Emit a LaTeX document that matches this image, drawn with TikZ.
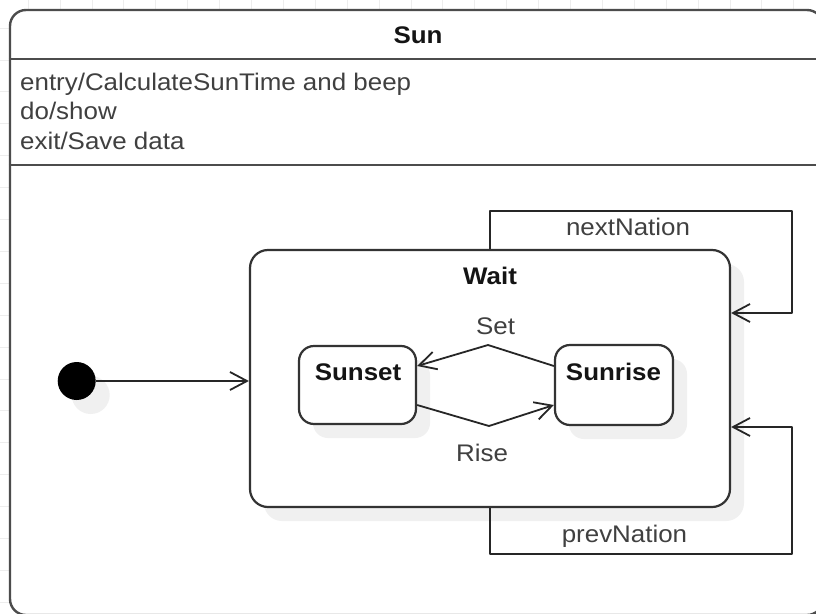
\documentclass[tikz,border=0pt]{standalone}
\usepackage{fontspec}
\setmainfont[FakeStretch=1.08]{Liberation Sans}
\usetikzlibrary{arrows.meta,calc,shadows}
\tikzset{
  gridline/.style={draw=black!7, line width=0.8pt},
  outerbox/.style={draw=black!70, line width=2.4pt, fill=white, rounded corners=16pt, inner sep=0pt},
  statebox/.style={draw=black!80, line width=2.2pt, fill=white, inner sep=0pt,
    general shadow={fill=black!6, shadow xshift=14pt, shadow yshift=-14pt}},
  initdot/.style={circle, fill=black, draw=none, minimum size=38pt, inner sep=0pt,
    general shadow={fill=black!6, shadow xshift=14pt, shadow yshift=-14pt}},
  trans/.style={draw=black!85, line width=1.8pt, line join=round,
    -{Straight Barb[length=17pt,width=18pt]}},
  txt/.style={text=black!75, font=\fontsize{24}{29}\selectfont, inner sep=0pt, anchor=base},
  ttl/.style={text=black!92, font=\fontsize{24}{29}\selectfont\bfseries, inner sep=0pt, anchor=base}
}
\begin{document}
\begin{tikzpicture}[x=1pt,y=-1pt]
\useasboundingbox (0,0) rectangle (816,613);
\clip (0,0) rectangle (816,613);
\fill[white] (0,0) rectangle (816,613);
% background grid
\foreach \i in {0,...,25} \draw[gridline] (28.1+\i*31.9,0) -- (28.1+\i*31.9,613);
\foreach \j in {0,...,19} \draw[gridline] (0,28+\j*31.9) -- (816,28+\j*31.9);

% outer state
\node[outerbox, minimum width=813pt, minimum height=605pt] (sun) at (416.5,312.5) {};
\draw[draw=black!70, line width=2.4pt] ($(sun.north west)+(0,50)$) -- ($(sun.north east)+(0,50)$);
\draw[draw=black!70, line width=2.4pt] ($(sun.north west)+(0,156)$) -- ($(sun.north east)+(0,156)$);
\node[ttl] (suntitle) at (418,43.5) {Sun};
\node[txt, anchor=base west] (entry) at (20,90) {entry/CalculateSunTime and beep};
\node[txt, anchor=base west] (do) at (20,119.5) {do/show};
\node[txt, anchor=base west] (exit) at (20,149) {exit/Save data};

% inner states
\node[statebox, rounded corners=18pt, minimum width=480pt, minimum height=257pt] (wait) at (490,378.5) {};
\node[initdot] (init) at (76.7,381) {};
\node[statebox, rounded corners=15pt, minimum width=117pt, minimum height=78pt] (sunset) at (357.5,385) {};
\node[statebox, rounded corners=15pt, minimum width=118pt, minimum height=80pt] (sunrise) at (614,385) {};
\node[ttl] (waittitle) at (490,284) {Wait};
\node[ttl] (sunsettitle) at (358,380) {Sunset};
\node[ttl] (sunrisetitle) at (613.5,380) {Sunrise};

% transitions
\draw[trans] (init) -- (init -| wait.west);
\coordinate (setpeak) at (488,345);
\coordinate (risetrough) at (489,426);
\draw[trans] ($(sunrise.west)+(0,-19)$) -- (setpeak) -- ($(sunset.east)+(0,-19)$);
\draw[trans] ($(sunset.east)+(0,20)$) -- (risetrough) -- ($(sunrise.west)+(0,20)$);
\coordinate (nn) at (792,211);
\coordinate (pn) at (792,554);
\draw[trans] (wait.north) |- (nn) |- ($(wait.east)+(0,-65.5)$);
\draw[trans] (wait.south) |- (pn) |- ($(wait.east)+(0,48.5)$);

% labels
\node[txt] (setlbl) at (495.5,334.3) {Set};
\node[txt] (riselbl) at (482,461.7) {Rise};
\node[txt] (nextlbl) at (628,235.7) {nextNation};
\node[txt] (prevlbl) at (624.5,542.7) {prevNation};
\end{tikzpicture}
\end{document}
